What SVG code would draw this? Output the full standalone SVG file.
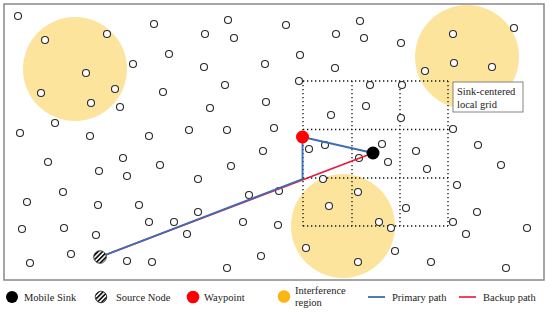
<svg xmlns="http://www.w3.org/2000/svg" width="550" height="312" viewBox="0 0 550 312">
<defs>
<style>
.n{fill:#fff;stroke:#2a2a2a;stroke-width:1.1}
.zone{fill:#fde49d}
.grid{stroke:#111;stroke-width:1.3;stroke-dasharray:1.3 2.7;fill:none}
.t{font-family:"Liberation Serif","Times New Roman",serif;font-size:10.5px;fill:#222}
.pri{stroke:#3d6db4;stroke-width:1.8;fill:none}
.bak{stroke:#e8173c;stroke-width:1.6;fill:none}
</style>
<pattern id="hatch" patternUnits="userSpaceOnUse" width="3.2" height="3.2" patternTransform="rotate(45)">
<rect width="3.2" height="3.2" fill="#fff"/>
<rect width="1.7" height="3.2" fill="#111"/>
</pattern>
</defs>
<rect width="550" height="312" fill="#fff"/>
<rect x="4" y="4" width="540" height="276" fill="none" stroke="#888" stroke-width="1.5"/>

<g id="interference-regions">
<circle class="zone" cx="75" cy="69" r="52"/>
<circle class="zone" cx="467" cy="57" r="52"/>
<circle class="zone" cx="343" cy="226" r="52"/>
</g>

<g id="local-grid">
<path class="grid" d="M303 81H448M303 129.5H448M303 178H448M303 226H448M303 81V226M352 81V226M400 81V226M448 81V226"/>
</g>

<g id="sensor-nodes">
<circle class="n" cx="18" cy="16" r="3.5"/>
<circle class="n" cx="45" cy="40" r="3.5"/>
<circle class="n" cx="107" cy="34" r="3.5"/>
<circle class="n" cx="86" cy="73" r="3.5"/>
<circle class="n" cx="41" cy="93" r="3.5"/>
<circle class="n" cx="115" cy="89" r="3.5"/>
<circle class="n" cx="91" cy="103" r="3.5"/>
<circle class="n" cx="120" cy="107" r="3.5"/>
<circle class="n" cx="55" cy="123" r="3.5"/>
<circle class="n" cx="20" cy="133" r="3.5"/>
<circle class="n" cx="90" cy="136" r="3.5"/>
<circle class="n" cx="149" cy="136" r="3.5"/>
<circle class="n" cx="189" cy="130" r="3.5"/>
<circle class="n" cx="227" cy="130" r="3.5"/>
<circle class="n" cx="274" cy="128" r="3.5"/>
<circle class="n" cx="133" cy="64" r="3.5"/>
<circle class="n" cx="154" cy="24" r="3.5"/>
<circle class="n" cx="169" cy="54" r="3.5"/>
<circle class="n" cx="163" cy="92" r="3.5"/>
<circle class="n" cx="205" cy="34" r="3.5"/>
<circle class="n" cx="228" cy="20" r="3.5"/>
<circle class="n" cx="234" cy="38" r="3.5"/>
<circle class="n" cx="204" cy="67" r="3.5"/>
<circle class="n" cx="225" cy="85" r="3.5"/>
<circle class="n" cx="210" cy="108" r="3.5"/>
<circle class="n" cx="265" cy="64" r="3.5"/>
<circle class="n" cx="266" cy="102" r="3.5"/>
<circle class="n" cx="286" cy="25" r="3.5"/>
<circle class="n" cx="360" cy="21" r="3.5"/>
<circle class="n" cx="336" cy="34" r="3.5"/>
<circle class="n" cx="364" cy="38" r="3.5"/>
<circle class="n" cx="401" cy="43" r="3.5"/>
<circle class="n" cx="300" cy="55" r="3.5"/>
<circle class="n" cx="335" cy="68" r="3.5"/>
<circle class="n" cx="299" cy="81" r="3.5"/>
<circle class="n" cx="370" cy="85" r="3.5"/>
<circle class="n" cx="402" cy="85" r="3.5"/>
<circle class="n" cx="366" cy="106" r="3.5"/>
<circle class="n" cx="331" cy="115" r="3.5"/>
<circle class="n" cx="401" cy="118" r="3.5"/>
<circle class="n" cx="453" cy="129" r="3.5"/>
<circle class="n" cx="453" cy="34" r="3.5"/>
<circle class="n" cx="454" cy="63" r="3.5"/>
<circle class="n" cx="492" cy="67" r="3.5"/>
<circle class="n" cx="425" cy="71" r="3.5"/>
<circle class="n" cx="514" cy="28" r="3.5"/>
<circle class="n" cx="48" cy="162" r="3.5"/>
<circle class="n" cx="123" cy="158" r="3.5"/>
<circle class="n" cx="99" cy="171" r="3.5"/>
<circle class="n" cx="127" cy="176" r="3.5"/>
<circle class="n" cx="160" cy="165" r="3.5"/>
<circle class="n" cx="198" cy="179" r="3.5"/>
<circle class="n" cx="231" cy="166" r="3.5"/>
<circle class="n" cx="263" cy="151" r="3.5"/>
<circle class="n" cx="63" cy="192" r="3.5"/>
<circle class="n" cx="27" cy="202" r="3.5"/>
<circle class="n" cx="98" cy="205" r="3.5"/>
<circle class="n" cx="139" cy="205" r="3.5"/>
<circle class="n" cx="249" cy="195" r="3.5"/>
<circle class="n" cx="198" cy="212" r="3.5"/>
<circle class="n" cx="149" cy="222" r="3.5"/>
<circle class="n" cx="174" cy="222" r="3.5"/>
<circle class="n" cx="243" cy="222" r="3.5"/>
<circle class="n" cx="22" cy="229" r="3.5"/>
<circle class="n" cx="64" cy="228" r="3.5"/>
<circle class="n" cx="96" cy="235" r="3.5"/>
<circle class="n" cx="187" cy="234" r="3.5"/>
<circle class="n" cx="71" cy="254" r="3.5"/>
<circle class="n" cx="30" cy="263" r="3.5"/>
<circle class="n" cx="127" cy="261" r="3.5"/>
<circle class="n" cx="152" cy="262" r="3.5"/>
<circle class="n" cx="227" cy="268" r="3.5"/>
<circle class="n" cx="261" cy="256" r="3.5"/>
<circle class="n" cx="309" cy="149" r="3.5"/>
<circle class="n" cx="325" cy="145" r="3.5"/>
<circle class="n" cx="382" cy="144" r="3.5"/>
<circle class="n" cx="359" cy="158" r="3.5"/>
<circle class="n" cx="388" cy="162" r="3.5"/>
<circle class="n" cx="416" cy="151" r="3.5"/>
<circle class="n" cx="427" cy="169" r="3.5"/>
<circle class="n" cx="478" cy="145" r="3.5"/>
<circle class="n" cx="501" cy="165" r="3.5"/>
<circle class="n" cx="323" cy="179" r="3.5"/>
<circle class="n" cx="279" cy="191" r="3.5"/>
<circle class="n" cx="358" cy="192" r="3.5"/>
<circle class="n" cx="457" cy="185" r="3.5"/>
<circle class="n" cx="329" cy="206" r="3.5"/>
<circle class="n" cx="406" cy="208" r="3.5"/>
<circle class="n" cx="477" cy="212" r="3.5"/>
<circle class="n" cx="278" cy="225" r="3.5"/>
<circle class="n" cx="379" cy="222" r="3.5"/>
<circle class="n" cx="391" cy="228" r="3.5"/>
<circle class="n" cx="453" cy="222" r="3.5"/>
<circle class="n" cx="466" cy="234" r="3.5"/>
<circle class="n" cx="527" cy="228" r="3.5"/>
<circle class="n" cx="306" cy="248" r="3.5"/>
<circle class="n" cx="395" cy="251" r="3.5"/>
<circle class="n" cx="358" cy="262" r="3.5"/>
<circle class="n" cx="431" cy="262" r="3.5"/>
<circle class="n" cx="506" cy="268" r="3.5"/>
</g>

<g id="connectors">
<path class="bak" d="M100 257L373 153"/>
<path class="pri" d="M100 257L302.5 179V137L373 153"/>
</g>

<g id="waypoint"><circle cx="302.5" cy="137" r="6.5" fill="#ff0000"/></g>
<g id="mobile-sink"><circle cx="373" cy="153" r="6.5" fill="#000"/></g>
<g id="source-node"><circle cx="100" cy="257" r="6.3" fill="url(#hatch)" stroke="#222" stroke-width="0.8"/></g>

<g id="grid-label">
<rect x="453" y="82" width="70" height="30" fill="#fff" stroke="#666" stroke-width="0.8"/>
<text class="t" x="457" y="94.5">Sink-centered</text>
<text class="t" x="457" y="107.5">local grid</text>
</g>

<g id="legend">
<circle cx="12" cy="297" r="6" fill="#000"/>
<text class="t" x="24" y="301">Mobile Sink</text>
<circle cx="101" cy="297" r="5.8" fill="url(#hatch)" stroke="#222" stroke-width="0.8"/>
<text class="t" x="116" y="301">Source Node</text>
<circle cx="193" cy="297" r="6.3" fill="#ff0000"/>
<text class="t" x="204" y="301">Waypoint</text>
<circle cx="284" cy="296.5" r="6.3" fill="#fcb614"/>
<text class="t" x="295" y="294">Interference</text>
<text class="t" x="295" y="306">region</text>
<path class="pri" d="M368 297H385"/>
<text class="t" x="392" y="301">Primary path</text>
<path class="bak" d="M459 297H476"/>
<text class="t" x="483" y="301">Backup path</text>
</g>
</svg>
